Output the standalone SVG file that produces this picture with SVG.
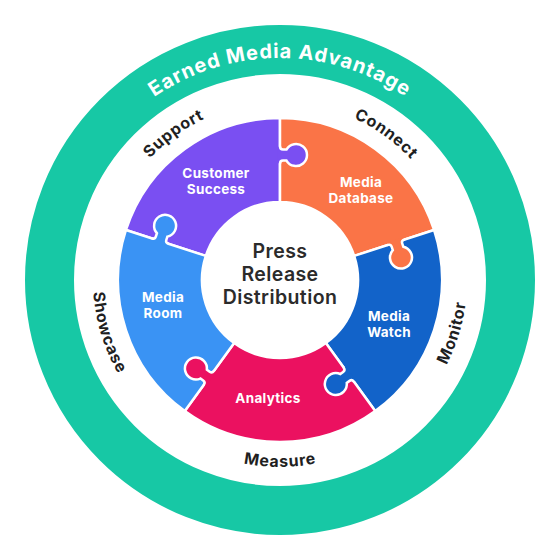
<svg xmlns="http://www.w3.org/2000/svg" xmlns:xlink="http://www.w3.org/1999/xlink" width="560" height="560" viewBox="0 0 560 560">
<style>
.seg{stroke:#fff;stroke-width:2.5;stroke-linejoin:round}
.lbl{font-family:Inter,"Open Sans","Liberation Sans",sans-serif;font-weight:700;font-size:13.5px;fill:#fff;text-anchor:middle;letter-spacing:0.3px}
.ctr{font-family:Inter,"Open Sans","Liberation Sans",sans-serif;font-weight:600;font-size:19.5px;fill:#2b2b2b;text-anchor:middle;letter-spacing:0.4px}
.ring{font-family:Inter,"Open Sans","Liberation Sans",sans-serif;font-weight:700;font-size:16px;fill:#1f1f1f;letter-spacing:0.7px}
.title{font-family:Inter,"Open Sans","Liberation Sans",sans-serif;font-weight:700;font-size:20px;fill:#fff;letter-spacing:1px}
.kstroke{fill:none;stroke:#fff;stroke-width:2.5;stroke-linecap:round}
</style>
<defs>
<path id="kf" d="M-8.5,-2.5 L-8.5,0 Q-5.5,0 -5.5,3 L-5.5,6.47 A11 11 0 1 0 5.5,6.47 L5.5,3 Q5.5,0 8.5,0 L8.5,-2.5 Z"/>
<path id="ks" d="M-8.5,0 Q-5.5,0 -5.5,3 L-5.5,6.47 A11 11 0 1 0 5.5,6.47 L5.5,3 Q5.5,0 8.5,0"/>
<path id="arcTitle" d="M58,280 A222 222 0 0 1 502,280"/>
<path id="arcSupport" d="M103,298.6 A178 178 0 0 1 352.4,117.4"/>
<path id="arcConnect" d="M207.6,117.4 A178 178 0 0 1 457,298.6"/>
<path id="arcMeasure" d="M118.1,373.5 A187 187 0 0 0 441.9,373.5"/>
<path id="arcMonitor" d="M322.1,462.2 A187 187 0 0 0 416.8,152.5"/>
<path id="arcShowcase" d="M143.2,152.5 A187 187 0 0 0 237.9,462.2"/>
</defs>
<rect width="560" height="560" fill="#fff"/>

<g id="outer-ring">
<circle cx="280" cy="280" r="230.5" fill="none" stroke="#17c8a5" stroke-width="49"/>
<text class="title"><textPath href="#arcTitle" startOffset="50%" text-anchor="middle">Earned Media Advantage</textPath></text>
</g>

<g id="stage-labels">
<text class="ring"><textPath href="#arcSupport" startOffset="50%" text-anchor="middle">Support</textPath></text>
<text class="ring"><textPath href="#arcConnect" startOffset="50%" text-anchor="middle">Connect</textPath></text>
<text class="ring"><textPath href="#arcMonitor" startOffset="50%" text-anchor="middle">Monitor</textPath></text>
<text class="ring"><textPath href="#arcMeasure" startOffset="50%" text-anchor="middle">Measure</textPath></text>
<text class="ring"><textPath href="#arcShowcase" startOffset="50%" text-anchor="middle">Showcase</textPath></text>
</g>

<g id="customer-success">
<path class="seg" fill="#7a4ff2" d="M125.93,229.94 A162 162 0 0 1 280,118 L280,202 A78 78 0 0 0 205.82,255.9 Z"/>
<text class="lbl" x="216" y="178">Customer</text>
<text class="lbl" x="216" y="194">Success</text>
</g>

<g id="media-database">
<path class="seg" fill="#fa7447" d="M280,118 A162 162 0 0 1 434.07,229.94 L354.18,255.9 A78 78 0 0 0 280,202 Z"/>
<text class="lbl" x="361" y="187">Media</text>
<text class="lbl" x="361" y="203">Database</text>
</g>

<g id="media-watch">
<path class="seg" fill="#1263c9" d="M434.07,229.94 A162 162 0 0 1 375.22,411.06 L325.85,343.1 A78 78 0 0 0 354.18,255.9 Z"/>
<text class="lbl" x="389" y="321">Media</text>
<text class="lbl" x="389" y="337">Watch</text>
</g>

<g id="analytics">
<path class="seg" fill="#eb1160" d="M375.22,411.06 A162 162 0 0 1 184.78,411.06 L234.15,343.1 A78 78 0 0 0 325.85,343.1 Z"/>
<text class="lbl" x="268" y="403">Analytics</text>
</g>

<g id="media-room">
<path class="seg" fill="#3a93f4" d="M184.78,411.06 A162 162 0 0 1 125.93,229.94 L205.82,255.9 A78 78 0 0 0 234.15,343.1 Z"/>
<text class="lbl" x="163" y="302">Media</text>
<text class="lbl" x="163" y="318">Room</text>
</g>

<g id="press-release-distribution">
<circle cx="280" cy="280" r="77" fill="#fff"/>
<text class="ctr" x="280" y="258">Press</text>
<text class="ctr" x="280" y="281">Release</text>
<text class="ctr" x="280" y="304">Distribution</text>
</g>

<g id="connectors">
<g transform="translate(280 280) rotate(-90) translate(125 0)"><use href="#kf" fill="#7a4ff2"/><use href="#ks" class="kstroke"/></g>
<g transform="translate(280 280) rotate(-18) translate(122 0)"><use href="#kf" fill="#fa7447"/><use href="#ks" class="kstroke"/></g>
<g transform="translate(280 280) rotate(54) translate(117 0)"><use href="#kf" fill="#1263c9"/><use href="#ks" class="kstroke"/></g>
<g transform="translate(280 280) rotate(126) translate(121 0)"><use href="#kf" fill="#eb1160"/><use href="#ks" class="kstroke"/></g>
<g transform="translate(280 280) rotate(-162) translate(126 0)"><use href="#kf" fill="#3a93f4"/><use href="#ks" class="kstroke"/></g>
</g>
</svg>
